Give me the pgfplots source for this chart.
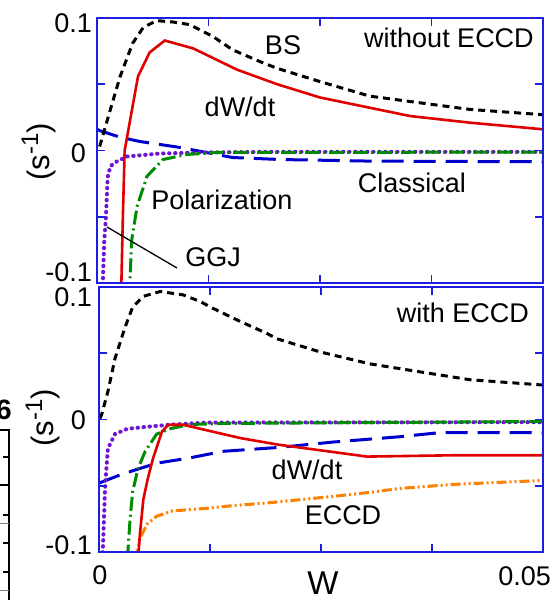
\documentclass[border=0pt]{standalone}
\usepackage{pgfplots}
\pgfplotsset{compat=1.18}
\usepackage{pgfplotstable}
\usepackage{fontspec}
\setmainfont{Liberation Sans}
\definecolor{axblue}{RGB}{30,30,225}
\definecolor{cred}{RGB}{225,0,0}
\definecolor{cblue}{RGB}{0,0,205}
\definecolor{cpurple}{RGB}{110,20,210}
\definecolor{cgreen}{RGB}{0,140,0}
\definecolor{corange}{RGB}{255,128,0}
\tikzset{tk/.style={axblue, line width=1.6pt}}

% ---------- top panel (without ECCD) ----------
\pgfplotstableread{
x y
0.0003 0.003
0.0015 0.031
0.0026 0.056
0.0040 0.081
0.0052 0.093
0.0067 0.098
0.0085 0.097
0.0104 0.095
0.0130 0.086
0.0152 0.076
0.0183 0.067
0.0202 0.062
0.0250 0.052
0.0306 0.041
0.0362 0.036
0.0418 0.031
0.0500 0.027
}\topbs
\pgfplotstableread{
x y
0.0027 -0.110
0.0029 -0.050
0.0031 0.000
0.0046 0.056
0.0059 0.074
0.0076 0.083
0.0108 0.077
0.0157 0.061
0.0202 0.050
0.0250 0.040
0.0351 0.026
0.0418 0.021
0.0500 0.016
}\topdw
\pgfplotstableread{
x y
0.0000 0.0160
0.0003 0.0150
0.0026 0.0100
0.0048 0.0068
0.0093 0.0023
0.0152 -0.0053
0.0205 -0.0068
0.0306 -0.0080
0.0500 -0.0085
}\topcl
\pgfplotstableread{
x y
0.0006 -0.110
0.0008 -0.070
0.0010 -0.050
0.0012 -0.020
0.0015 -0.012
0.0020 -0.009
0.0034 -0.0045
0.0070 -0.0023
0.0115 -0.0015
0.0200 -0.0010
0.0500 -0.0010
}\topggj
\pgfplotstableread{
x y
0.0036 -0.110
0.0037 -0.097
0.0039 -0.067
0.0045 -0.042
0.0056 -0.0195
0.0074 -0.0068
0.0101 -0.0030
0.0135 -0.0015
0.0500 -0.0012
}\toppol

% ---------- bottom panel (with ECCD) ----------
\pgfplotstableread{
x y
0.0001 0.0008
0.0003 0.0038
0.0010 0.021
0.0018 0.046
0.0029 0.069
0.0038 0.085
0.0050 0.093
0.0069 0.0966
0.0095 0.094
0.0114 0.089
0.0128 0.084
0.0159 0.074
0.0189 0.065
0.0200 0.061
0.0249 0.051
0.0305 0.042
0.0361 0.036
0.0418 0.030
0.0500 0.026
}\botbs
\pgfplotstableread{
x y
0.0044 -0.105
0.0046 -0.087
0.0050 -0.060
0.0055 -0.0445
0.0061 -0.029
0.0071 -0.009
0.0078 -0.004
0.0095 -0.004
0.0114 -0.007
0.0159 -0.014
0.0202 -0.019
0.0302 -0.028
0.0399 -0.027
0.0500 -0.027
}\botdw
\pgfplotstableread{
x y
0.0000 -0.048
0.0027 -0.041
0.0065 -0.033
0.0102 -0.029
0.0140 -0.024
0.0204 -0.021
0.0264 -0.017
0.0339 -0.013
0.0385 -0.0098
0.0500 -0.0100
}\botcl
\pgfplotstableread{
x y
0.0004 -0.105
0.0007 -0.049
0.0010 -0.022
0.0018 -0.011
0.0032 -0.007
0.0057 -0.0053
0.0083 -0.0038
0.0122 -0.0023
0.0500 -0.0020
}\botggj
\pgfplotstableread{
x y
0.0032 -0.105
0.0035 -0.075
0.0038 -0.054
0.0044 -0.037
0.0052 -0.024
0.0065 -0.011
0.0080 -0.007
0.0102 -0.0038
0.0140 -0.0030
0.0500 -0.0015
}\botpol
\pgfplotstableread{
x y
0.0042 -0.105
0.0046 -0.090
0.0054 -0.079
0.0065 -0.073
0.0083 -0.069
0.0102 -0.068
0.0122 -0.067
0.0151 -0.065
0.0189 -0.063
0.0264 -0.058
0.0305 -0.055
0.0339 -0.052
0.0399 -0.049
0.0500 -0.046
}\boteccd

\pgfplotsset{
  panel/.style={
    scale only axis,
    xmin=0, xmax=0.05, ymin=-0.1, ymax=0.1,
    xtick={0,0.0125,0.025,0.0375,0.05},
    ytick={-0.1,-0.05,0,0.05,0.1},
    xticklabel=\empty, yticklabel=\empty,
    scaled x ticks=false, scaled y ticks=false,
    xtick pos=both, ytick pos=both,
    tick align=inside,
    major tick length=8pt,
    axis line style={axblue, line width=1.6pt},
    xtick style={draw=axblue, line width=1.6pt},
    ytick style={draw=axblue, line width=1.6pt},
    axis on top,
  },
  bs/.style={black, line width=3pt, dash pattern=on 7pt off 5pt},
  dw/.style={cred, line width=2.6pt},
  cl/.style={cblue, line width=3pt, dash pattern=on 22pt off 10pt},
  ggj/.style={cpurple, line width=4pt, line cap=round, dash pattern=on 0.5pt off 5.5pt},
  pol/.style={cgreen, line width=3pt, dash pattern=on 14pt off 4pt on 2pt off 4pt},
  eccd/.style={corange, line width=3pt, dash pattern=on 10pt off 3pt on 2pt off 3pt on 2pt off 3pt},
}
\newcommand{\panelticks}{%
  \pgfplotsinvokeforeach{0.0125,0.025,0.0375}{%
    \draw[tk] (axis cs:##1,-0.1) -- ++(0pt,8pt);
    \draw[tk] (axis cs:##1,0.1) -- ++(0pt,-8pt);}%
  \pgfplotsinvokeforeach{-0.05,0,0.05}{%
    \draw[tk] (axis cs:0,##1) -- ++(8pt,0pt);
    \draw[tk] (axis cs:0.05,##1) -- ++(-8pt,0pt);}%
}

\begin{document}
\begin{tikzpicture}
\useasboundingbox (0pt,0pt) rectangle (553pt,600pt);

% top panel
\begin{axis}[panel, at={(97pt,317pt)}, anchor=south west, width=446pt, height=265pt]
\addplot[cl]  table[x=x,y=y]{\topcl};
\addplot[ggj] table[x=x,y=y]{\topggj};
\addplot[pol] table[x=x,y=y]{\toppol};
\addplot[bs]  table[x=x,y=y]{\topbs};
\addplot[dw]  table[x=x,y=y]{\topdw};
\panelticks
\end{axis}

% bottom panel
\begin{axis}[panel, at={(99pt,48pt)}, anchor=south west, width=444pt, height=265pt]
\addplot[cl]   table[x=x,y=y]{\botcl};
\addplot[ggj]  table[x=x,y=y]{\botggj};
\addplot[pol]  table[x=x,y=y]{\botpol};
\addplot[eccd] table[x=x,y=y]{\boteccd};
\addplot[bs]   table[x=x,y=y]{\botbs};
\addplot[dw]   table[x=x,y=y]{\botdw};
\panelticks
\end{axis}

\begin{scope}[x=1pt,y=1pt]
\clip (0,0) rectangle (553,600);
% text
\begin{scope}[every node/.style={inner sep=0pt, font=\fontsize{27}{30}\selectfont}]
% tick labels
\node[anchor=east] at (92,577) {0.1};
\node[anchor=east] at (86,447) {0};
\node[anchor=east] at (92,328) {-0.1};
\node[anchor=east] at (92,303) {0.1};
\node[anchor=east] at (86,180) {0};
\node[anchor=east] at (92,55) {-0.1};
\node at (100,25) {0};
\node[anchor=east] at (551,24) {0.05};
\node[font=\fontsize{33}{36}\selectfont] at (323,17) {W};
% y labels
\node[rotate=90, font=\fontsize{31}{34}\selectfont] at (39,448) {(s\raisebox{0.38em}{\fontsize{24}{24}\selectfont -1})};
\node[rotate=90, font=\fontsize{31}{34}\selectfont] at (43,182) {(s\raisebox{0.38em}{\fontsize{24}{24}\selectfont -1})};
% curve labels top
\node at (283,555) {BS};
\node at (449,562) {without ECCD};
\node at (240,493) {dW/dt};
\node at (412,417) {Classical};
\node at (222,400) {Polarization};
\node at (213,343) {GGJ};
% curve labels bottom
\node at (463,287) {with ECCD};
\node at (307,130) {dW/dt};
\node at (343,85) {ECCD};
\end{scope}
\draw[black, line width=1.3pt] (107,373) -- (177,332);

% fragment of neighbouring figure at the left edge
\draw[black, line width=2.6pt] (9,171) -- (9,0);
\draw[black, line width=2.6pt] (0,170) -- (10,170);
\foreach \p in {457,515,543,572} \draw[black, line width=2pt] (3,600-\p) -- (9,600-\p);
\draw[black, line width=2pt] (0,115) -- (9,115);
\foreach \p in {523,590} \draw[gray, line width=0.6pt] (0,600-\p) -- (9,600-\p);
\node[inner sep=0pt, font=\fontsize{28}{30}\selectfont\bfseries] at (4,190) {6};
\end{scope}
\end{tikzpicture}
\end{document}
